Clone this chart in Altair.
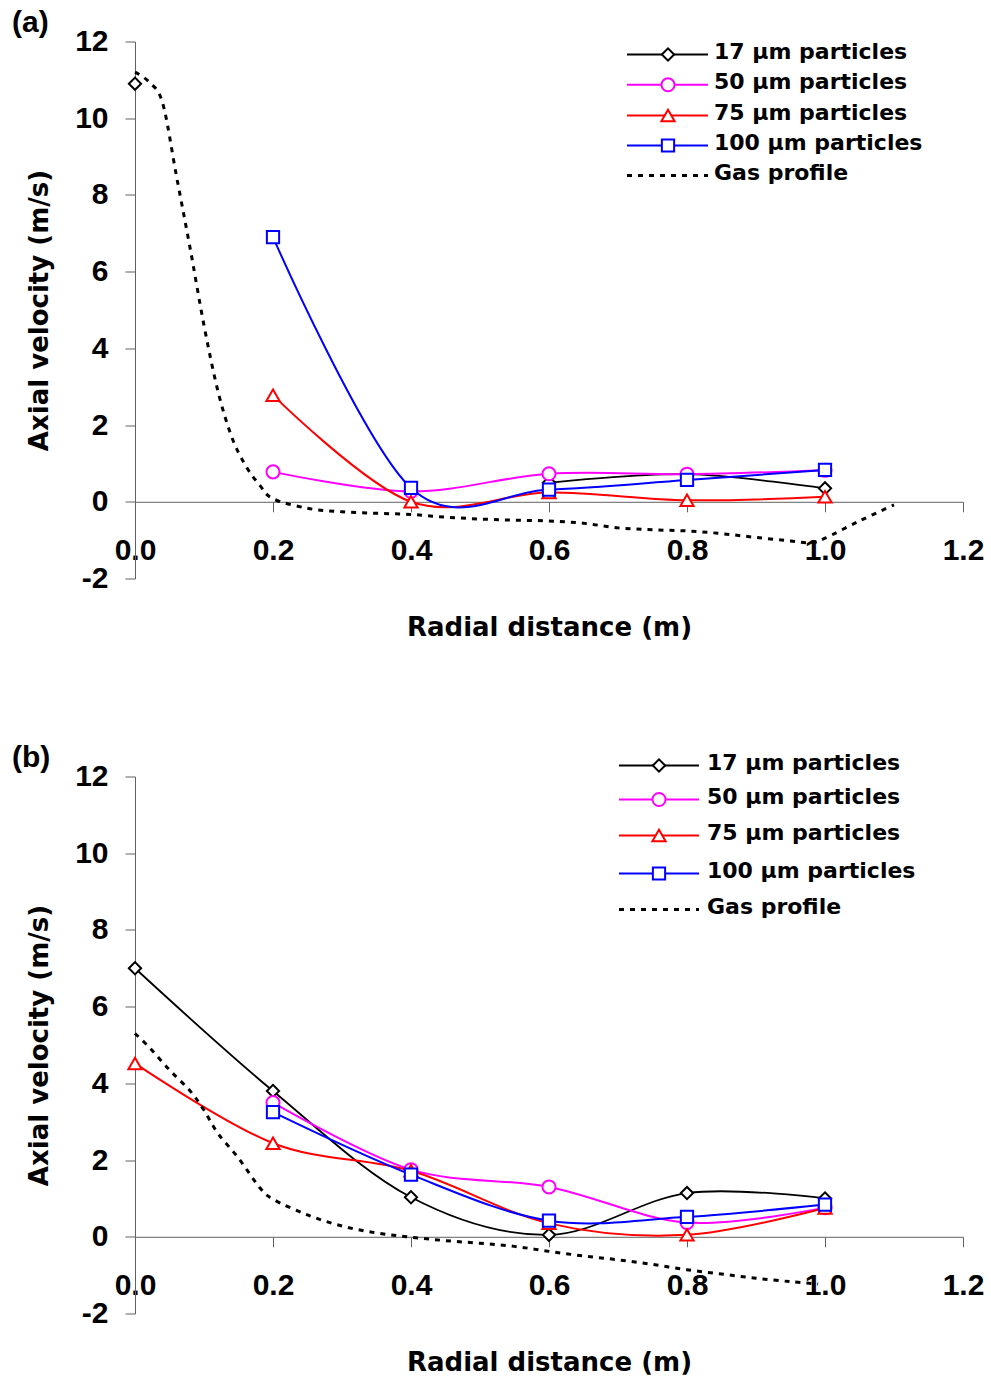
import altair as alt
import pandas as pd

# ---------------- data ----------------
x_points = [0.0, 0.2, 0.4, 0.6, 0.8, 1.0]
series_names = ["17 µm particles", "50 µm particles", "75 µm particles", "100 µm particles"]
gas_name = "Gas profile"

# panel (a)
a_17 = [10.9, None, None, 0.5, 0.72, 0.35]
a_50 = [None, 0.78, 0.27, 0.73, 0.72, 0.82]
a_75 = [None, 2.78, 0.0, 0.24, 0.04, 0.13]
a_100 = [None, 6.9, 0.36, 0.32, 0.57, 0.83]
gas_a_x = [0.0, 0.02, 0.04, 0.06, 0.08, 0.10, 0.12, 0.14, 0.16, 0.18, 0.20, 0.25, 0.30,
           0.35, 0.40, 0.45, 0.50, 0.55, 0.60, 0.65, 0.70, 0.75, 0.80, 0.85, 0.90, 0.95,
           0.98, 1.00, 1.05, 1.10]
gas_a_y = [11.2, 10.95, 10.4, 8.5, 6.6, 4.6, 2.9, 1.7, 0.95, 0.45, 0.08, -0.17, -0.26,
           -0.3, -0.33, -0.4, -0.45, -0.48, -0.5, -0.56, -0.68, -0.73, -0.76, -0.83, -0.93,
           -1.02, -1.07, -0.95, -0.5, -0.08]

# panel (b)
b_17 = [7.0, 3.8, 1.03, 0.05, 1.14, 1.0]
b_50 = [None, 3.5, 1.75, 1.3, 0.37, 0.76]
b_75 = [4.52, 2.44, 1.72, 0.35, 0.05, 0.75]
b_100 = [None, 3.25, 1.62, 0.42, 0.52, 0.84]
gas_b_x = [0.0, 0.02, 0.05, 0.08, 0.10, 0.12, 0.15, 0.18, 0.20, 0.25, 0.30, 0.35, 0.40,
           0.45, 0.50, 0.55, 0.60, 0.65, 0.70, 0.75, 0.80, 0.85, 0.90, 0.95, 0.99]
gas_b_y = [5.3, 4.95, 4.35, 3.8, 3.3, 2.7, 2.05, 1.3, 0.98, 0.57, 0.28, 0.1, -0.01,
           -0.1, -0.17, -0.25, -0.38, -0.5, -0.6, -0.72, -0.86, -0.97, -1.08, -1.17, -1.23]

x_ticks = [0.0, 0.2, 0.4, 0.6, 0.8, 1.0, 1.2]
y_ticks = [-2, 0, 2, 4, 6, 8, 10, 12]
panel_labels = ["(a)", "(b)"]

# ---------------- styles ----------------
colors = ["#000000", "#FF00FF", "#FF0000", "#0000FF"]
shapes = ["diamond", "circle", "triangle-up", "square"]
sizes = [150, 170, 175, 150]
line_widths = [1.8, 2, 2, 2]
W, H = 828, 537
AXIS_GRAY = "#606060"

xscale = alt.Scale(domain=[0, 1.2], nice=False, zero=False)
yscale = alt.Scale(domain=[-2, 12], nice=False, zero=False)

x_axis = alt.Axis(values=x_ticks, format=".1f", offset=-H * 2 / 14, grid=False,
                  title="Radial distance (m)", tickSize=10, labelPadding=24,
                  titlePadding=49, labelFlush=False, labelOverlap=False)
y_axis = alt.Axis(values=y_ticks, grid=False, title="Axial velocity (m/s)",
                  labelExpr="datum.value < 0 ? '-' + format(-datum.value, 'd') : format(datum.value, 'd')",
                  tickSize=10, labelPadding=17, titlePadding=22,
                  labelFlush=False, labelOverlap=False)


def series_df(vals):
    rows = []
    seg = 0
    for x, v in zip(x_points, vals):
        if v is None:
            seg += 1
            continue
        rows.append({"x": x, "y": v, "seg": seg})
    return pd.DataFrame(rows)


def make_panel(label, series_vals, gas_x, gas_y, leg):
    layers = []
    for i, vals in enumerate(series_vals):
        df = series_df(vals)
        enc = dict(x=alt.X("x:Q", scale=xscale, axis=x_axis),
                   y=alt.Y("y:Q", scale=yscale, axis=y_axis))
        layers.append(alt.Chart(df).mark_line(interpolate="cardinal", color=colors[i],
                                              strokeWidth=line_widths[i])
                      .encode(detail="seg:N", **enc))
        layers.append(alt.Chart(df).mark_point(shape=shapes[i], filled=True, fill="white",
                                               fillOpacity=1, stroke=colors[i],
                                               strokeWidth=2, size=sizes[i], opacity=1)
                      .encode(**enc))
    gdf = pd.DataFrame({"x": gas_x, "y": gas_y})
    layers.append(alt.Chart(gdf).mark_line(interpolate="cardinal", color="black",
                                           strokeWidth=3, strokeDash=[5, 6])
                  .encode(x=alt.X("x:Q", scale=xscale, axis=x_axis),
                          y=alt.Y("y:Q", scale=yscale, axis=y_axis)))

    # legend
    names = series_names + [gas_name]
    for i, name in enumerate(names):
        ly = leg["y0"] + leg["dy"][i]
        one = pd.DataFrame({"t": [name]})
        if i < 4:
            layers.append(alt.Chart(one).mark_rule(color=colors[i], strokeWidth=2)
                          .encode(x=alt.value(leg["x1"]), x2=alt.value(leg["x2"]), y=alt.value(ly)))
            layers.append(alt.Chart(one).mark_point(shape=shapes[i], filled=True, fill="white",
                                                    fillOpacity=1, stroke=colors[i],
                                                    strokeWidth=2, size=sizes[i], opacity=1)
                          .encode(x=alt.value(leg["xm"]), y=alt.value(ly)))
        else:
            layers.append(alt.Chart(one).mark_rule(color="black", strokeWidth=3, strokeDash=[5, 6])
                          .encode(x=alt.value(leg["x1"]), x2=alt.value(leg["x2"]), y=alt.value(ly)))
        layers.append(alt.Chart(one).mark_text(align="left", baseline="alphabetic",
                                               font="DejaVu Sans", fontWeight="bold",
                                               fontSize=22, color="black")
                      .encode(x=alt.value(leg["xt"]), y=alt.value(ly + 4.5), text="t:N"))

    lab = pd.DataFrame({"t": [label]})
    layers.append(alt.Chart(lab).mark_text(align="left", baseline="top",
                                           font="Liberation Sans", fontWeight="bold",
                                           fontSize=30, color="black")
                  .encode(x=alt.value(-123), y=alt.value(-33.5), text="t:N"))
    return alt.layer(*layers).properties(width=W, height=H)


leg_a = {"x1": 492, "x2": 573, "xm": 533, "xt": 579, "y0": 13, "dy": [0, 30.3, 61, 91, 121]}
leg_b = {"x1": 484, "x2": 564, "xm": 524, "xt": 572, "y0": -11, "dy": [0, 34, 70, 108, 144]}

panel_a = make_panel(panel_labels[0], [a_17, a_50, a_75, a_100], gas_a_x, gas_a_y, leg_a)
panel_b = make_panel(panel_labels[1], [b_17, b_50, b_75, b_100], gas_b_x, gas_b_y, leg_b)

chart = alt.vconcat(panel_a, panel_b, spacing=198, bounds="flush").properties(
    padding={"left": 11, "top": 7.5, "right": 0, "bottom": 0},
    background="white"
).configure_view(stroke="transparent").configure_axis(
    labelFont="Liberation Sans", labelFontWeight="bold", labelFontSize=30, labelColor="black",
    titleFont="DejaVu Sans", titleFontWeight="bold", titleFontSize=26, titleColor="black",
    domainColor=AXIS_GRAY, tickColor=AXIS_GRAY, domainWidth=1, tickWidth=1
)

chart.save("out.html", embed_options={"renderer": "svg", "actions": False})
